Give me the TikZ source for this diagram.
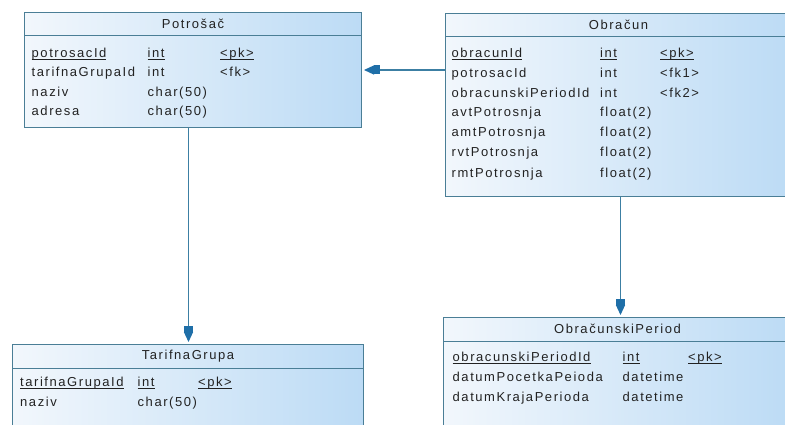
\documentclass[tikz,border=0pt]{standalone}
\usepackage{fontspec}
\setmainfont{Liberation Sans}[LetterSpace=12]
\usetikzlibrary{arrows.meta}
\definecolor{bordercol}{HTML}{4A7E96}
\definecolor{linecol}{HTML}{3C7FA3}
\definecolor{arrowcol}{HTML}{1F6FA8}
\definecolor{tblL}{HTML}{F2F7FC}
\definecolor{tblR}{HTML}{BCDBF5}
\definecolor{txtcol}{HTML}{222222}
\newcommand\myul[1]{\setbox0\hbox{#1}\rlap{\rule[-2.2pt]{\wd0}{0.7pt}}\box0}
\begin{document}
\begin{tikzpicture}[x=1pt,y=-1pt,
  tbl/.style={draw=bordercol, line width=1pt, left color=tblL, right color=tblR, rectangle, inner sep=0pt, anchor=north west},
  hdr/.style={font=\fontsize{13}{15}\selectfont, text=txtcol, inner sep=0pt},
  cell/.style={font=\fontsize{13}{15}\selectfont, text=txtcol, inner sep=0pt, anchor=west, text height=9pt, text depth=0pt},
  sepline/.style={draw=bordercol, line width=1pt},
  fk/.style={draw=linecol, line width=1.2pt, shorten >=2pt,
    -{Rectangle[length=6pt,width=9pt,color=arrowcol] Triangle[length=10pt,width=9pt,color=arrowcol]}}]
\clip (0,0) rectangle (785,425);
\fill[white] (0,0) rectangle (785,425);

% tables
\node[tbl, minimum width=337pt, minimum height=115pt] (pot) at (24,12) {};
\node[tbl, minimum width=346pt, minimum height=183pt] (obr) at (445,13) {};
\node[tbl, minimum width=351pt, minimum height=95pt] (tg) at (12,344) {};
\node[tbl, minimum width=348pt, minimum height=125pt] (op) at (443,317) {};

% header separators
\draw[sepline] ([yshift=-24pt]pot.north west) -- ([yshift=-24pt]pot.north east);
\draw[sepline] ([yshift=-24pt]obr.north west) -- ([yshift=-24pt]obr.north east);
\draw[sepline] ([yshift=-24pt]tg.north west) -- ([yshift=-24pt]tg.north east);
\draw[sepline] ([yshift=-24pt]op.north west) -- ([yshift=-24pt]op.north east);

% headers
\node[hdr] (potH) at ([yshift=-12pt]pot.north) {Potrošač};
\node[hdr] (obrH) at ([yshift=-12pt]obr.north) {Obračun};
\node[hdr] (tgH) at ([yshift=-12pt]tg.north) {TarifnaGrupa};
\node[hdr] (opH) at ([yshift=-12pt]op.north) {ObračunskiPeriod};

% Potrosac rows
\node[cell] (p1n) at (31.5,53) {\myul{potrosacId}};
\node[cell] (p1t) at (147.5,53) {\myul{int}};
\node[cell] (p1k) at (220,53) {\myul{<pk>}};
\node[cell] (p2n) at (31.5,72.5) {tarifnaGrupaId};
\node[cell] (p2t) at (147.5,72.5) {int};
\node[cell] (p2k) at (220,72.5) {<fk>};
\node[cell] (p3n) at (31.5,92) {naziv};
\node[cell] (p3t) at (147.5,92) {char(50)};
\node[cell] (p4n) at (31.5,111.5) {adresa};
\node[cell] (p4t) at (147.5,111.5) {char(50)};

% Obracun rows
\node[cell] (o1n) at (451.5,53) {\myul{obracunId}};
\node[cell] (o1t) at (600,53) {\myul{int}};
\node[cell] (o1k) at (660,53) {\myul{<pk>}};
\node[cell] (o2n) at (451.5,73) {potrosacId};
\node[cell] (o2t) at (600,73) {int};
\node[cell] (o2k) at (660,73) {<fk1>};
\node[cell] (o3n) at (451.5,93) {obracunskiPeriodId};
\node[cell] (o3t) at (600,93) {int};
\node[cell] (o3k) at (660,93) {<fk2>};
\node[cell] (o4n) at (451.5,112.5) {avtPotrosnja};
\node[cell] (o4t) at (600,112.5) {float(2)};
\node[cell] (o5n) at (451.5,132.5) {amtPotrosnja};
\node[cell] (o5t) at (600,132.5) {float(2)};
\node[cell] (o6n) at (451.5,152.5) {rvtPotrosnja};
\node[cell] (o6t) at (600,152.5) {float(2)};
\node[cell] (o7n) at (451.5,173) {rmtPotrosnja};
\node[cell] (o7t) at (600,173) {float(2)};

% TarifnaGrupa rows
\node[cell] (t1n) at (20,382) {\myul{tarifnaGrupaId}};
\node[cell] (t1t) at (137.5,382) {\myul{int}};
\node[cell] (t1k) at (198,382) {\myul{<pk>}};
\node[cell] (t2n) at (20,402) {naziv};
\node[cell] (t2t) at (137.5,402) {char(50)};

% ObracunskiPeriod rows
\node[cell] (q1n) at (452.5,357) {\myul{obracunskiPeriodId}};
\node[cell] (q1t) at (622.5,357) {\myul{int}};
\node[cell] (q1k) at (688,357) {\myul{<pk>}};
\node[cell] (q2n) at (452.5,377) {datumPocetkaPeioda};
\node[cell] (q2t) at (622.5,377) {datetime};
\node[cell] (q3n) at (452.5,397) {datumKrajaPerioda};
\node[cell] (q3t) at (622.5,397) {datetime};

% connectors
\coordinate (pA) at ([yshift=-58pt]pot.north east);
\draw[fk] (obr.west |- pA) -- (pA);
\coordinate (pB) at ([xshift=-4.5pt]pot.south);
\draw[fk] (pB) -- (tg.north -| pB);
\coordinate (oB) at ([xshift=2pt]obr.south);
\draw[fk] (oB) -- (op.north -| oB);
\end{tikzpicture}
\end{document}
